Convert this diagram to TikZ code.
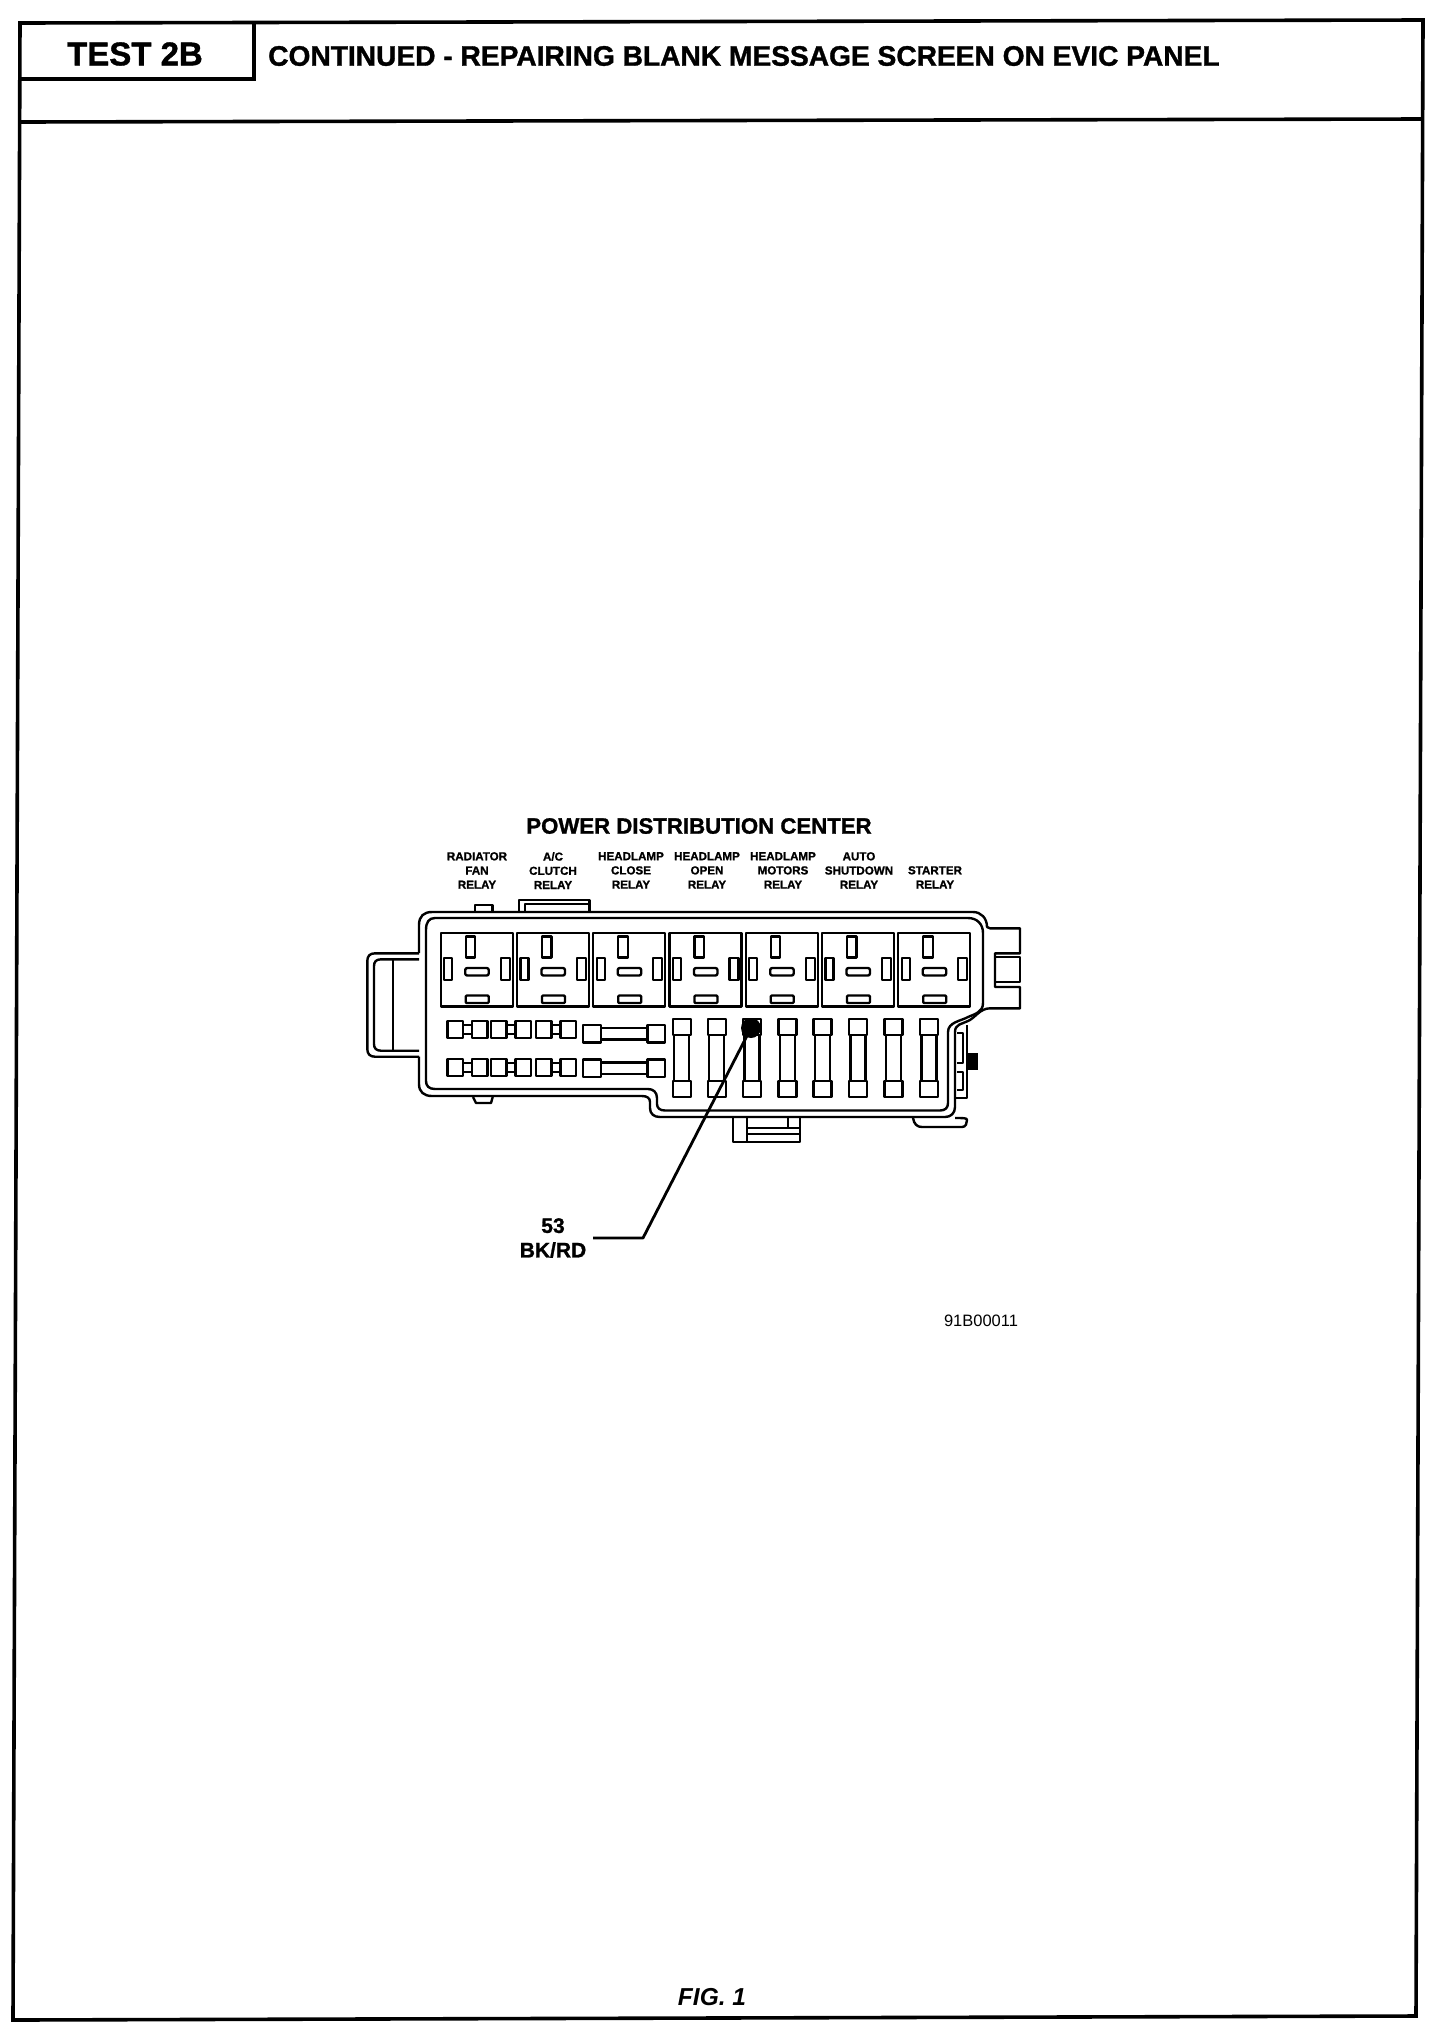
\documentclass[tikz,border=0pt]{standalone}
\usepackage{fontspec}
\setmainfont{Liberation Sans}[BoldFeatures={FakeBold=1.2}]
\tikzset{
  frameline/.style={line width=3.6pt,black},
  partline/.style={line width=2.4pt,black,line join=round},
  lbl/.style={inner sep=0pt,font=\bfseries,align=center,text=black},
  relaylbl/.style={lbl,font=\bfseries\fontsize{11.6}{14.2}\selectfont,execute at begin node={\vphantom{/}}},
  leader/.style={line width=2.8pt,black,line join=round}
}
\begin{document}
\begin{tikzpicture}[x=1pt,y=1pt]
\useasboundingbox (0,0) rectangle (1456,-2030);
\fill[white] (0,0) rectangle (1456,-2030);
% page frame
\draw[frameline] (20,-23) -- (1423,-20) -- (1416,-2016) -- (13,-2020) -- cycle;
\draw[frameline] (20,-122) -- (1422,-119);
\draw[frameline] (254,-23) -- (254,-79) -- (20,-79);
\node[lbl,font=\bfseries\fontsize{33}{36}\selectfont] (test) at (135,-54) {TEST 2B};
\node[lbl,font=\bfseries\fontsize{28.15}{30}\selectfont,anchor=west] (title) at (268,-56) {CONTINUED - REPAIRING BLANK MESSAGE SCREEN ON EVIC PANEL};
\node[lbl,font=\bfseries\fontsize{22.2}{25}\selectfont] (pdc) at (699,-826) {POWER DISTRIBUTION CENTER};
% relay labels
\node[relaylbl,anchor=north] (r1) at (477,-852) {RADIATOR\\FAN\\RELAY};
\node[relaylbl,anchor=north] (r2) at (553,-852) {A/C\\CLUTCH\\RELAY};
\node[relaylbl,anchor=north] (r3) at (631,-852) {HEADLAMP\\CLOSE\\RELAY};
\node[relaylbl,anchor=north] (r4) at (707,-852) {HEADLAMP\\OPEN\\RELAY};
\node[relaylbl,anchor=north] (r5) at (783,-852) {HEADLAMP\\MOTORS\\RELAY};
\node[relaylbl,anchor=north] (r6) at (859,-852) {AUTO\\SHUTDOWN\\RELAY};
\node[relaylbl,anchor=north] (r7) at (935,-866) {STARTER\\RELAY};
% outer outline
\draw[partline] (419,-953) -- (419,-925) .. controls (419,-916) and (424,-912) .. (432,-912)
  -- (973,-912) .. controls (981,-912) and (987,-918) .. (987,-927)
  -- (990,-928.3) -- (1020,-928.3) -- (1020,-953.3) -- (995,-953.3) -- (995,-987) -- (1020,-987) -- (1020,-1008.3) -- (990,-1008.3)
  .. controls (980,-1008.3) and (975,-1018) .. (968,-1021)
  .. controls (962,-1024) and (955,-1024) .. (955,-1032)
  -- (955,-1107) .. controls (955,-1113) and (951,-1117) .. (945,-1117)
  -- (660,-1117) .. controls (654,-1117) and (650,-1114) .. (650,-1108)
  -- (650,-1102) .. controls (650,-1098) and (647,-1096) .. (642,-1096)
  -- (432,-1096) .. controls (424,-1096) and (419,-1092) .. (419,-1084) -- (419,-1056.7);
% inner outline
\draw[partline] (426,-930) .. controls (426,-922) and (429,-918) .. (435,-918)
  -- (968,-918) .. controls (977,-918) and (983,-924) .. (983,-933)
  -- (983,-1003) .. controls (983,-1012) and (975,-1014) .. (968,-1017)
  .. controls (961,-1021) and (948,-1022) .. (948,-1032)
  -- (948,-1103) .. controls (948,-1108) and (945,-1110.5) .. (940,-1110.5)
  -- (665,-1110.5) .. controls (660,-1110.5) and (657,-1108) .. (657,-1104)
  -- (657,-1098) .. controls (657,-1092) and (653,-1089) .. (648,-1089)
  -- (435,-1089) .. controls (429,-1089) and (426,-1086) .. (426,-1081) -- cycle;
% tab block at the right
\draw[partline] (995,-957) rectangle (1020,-982);
% left tab
\draw[partline] (419,-953.3) -- (375,-953.3) .. controls (370,-953.3) and (367.3,-956) .. (367.3,-961)
  -- (367.3,-1049) .. controls (367.3,-1054) and (370,-1056.7) .. (375,-1056.7) -- (419,-1056.7);
\draw[partline] (419,-959.3) -- (381,-959.3) .. controls (376,-959.3) and (374,-962) .. (374,-966)
  -- (374,-1044) .. controls (374,-1048) and (376,-1050.7) .. (381,-1050.7) -- (419,-1050.7);
\draw[partline] (392.7,-959.3) -- (392.7,-1050.7);
% top and bottom small tabs
\draw[partline] (475,-911) -- (475,-905) -- (492.3,-905) -- (492.3,-911);
\draw[partline] (519,-911) -- (519,-900) -- (589.3,-900) -- (589.3,-911);
\draw[partline] (525,-911) -- (525,-904) -- (589.3,-904);
\draw[partline] (473,-1097) -- (476,-1103) -- (491,-1103) -- (492.7,-1097);
% bottom bracket
\draw[partline] (733,-1118) -- (733,-1142) -- (800,-1142) -- (800,-1118);
\draw[partline] (747,-1118) -- (747,-1142);
\draw[partline] (747,-1128) -- (800,-1128);
\draw[partline] (747,-1134) -- (800,-1134);
\draw[partline] (788,-1118) -- (788,-1128);
% right lower details
\draw[partline] (967,-1025) -- (967,-1098) -- (955,-1098);
\draw[partline] (957,-1033) -- (963,-1033) -- (963,-1063) -- (957,-1063);
\draw[partline] (957,-1072) -- (963,-1072) -- (963,-1090) -- (957,-1090);
\fill[black] (968,-1053) rectangle (978,-1070);
\draw[partline] (913,-1118) .. controls (914,-1124) and (917,-1127) .. (922,-1127) -- (962,-1127) .. controls (966,-1127) and (967,-1123) .. (967,-1120) .. controls (967,-1118) and (964,-1118) .. (955,-1118);
% relay sockets
\foreach \i in {0,...,6}{
  \begin{scope}[shift={(440.7+76.25*\i,-933)}]
    \draw[partline] (0,0) rectangle (72,-73.5);
    \draw[partline] (25,-3.5) rectangle (34.5,-24.5);
    \draw[partline] (3.5,-25) rectangle (11.5,-47);
    \draw[partline] (60,-25) rectangle (69,-47);
    \draw[partline,rounded corners=2pt] (24.5,-35) rectangle (48,-42.5);
    \draw[partline,rounded corners=1pt] (25,-62.5) rectangle (48,-70);
  \end{scope}
}
% small fuses
\foreach \y in {-1021,-1059}{
  \foreach \x in {447.3,491,536}{
    \draw[partline] (\x,\y) rectangle ++(15.5,-17);
    \draw[partline] (\x+15.5,\y-4) -- ++(9,0);
    \draw[partline] (\x+15.5,\y-13) -- ++(9,0);
    \draw[partline] (\x+24.5,\y) rectangle ++(15.5,-17);
  }
}
% horizontal fuses
\foreach \y in {-1025,-1059.5}{
  \draw[partline] (582.7,\y) rectangle ++(18,-17.5);
  \draw[partline] (665,\y) rectangle ++(-17.7,-17.5);
  \draw[partline] (600.7,\y-3) -- (647.3,\y-3);
  \draw[partline] (600.7,\y-14.5) -- (647.3,\y-14.5);
}
% vertical fuses
\foreach \x in {672.7,707.7,742.9,778.3,813.3,849,884.3,920}{
  \draw[partline] (\x,-1019) rectangle ++(18,-16);
  \draw[partline] (\x,-1081) rectangle ++(18,-16);
  \draw[partline] (\x+1.5,-1035) -- (\x+1.5,-1081);
  \draw[partline] (\x+16.5,-1035) -- (\x+16.5,-1081);
}
% leader
\node[circle,fill=black,inner sep=0pt,minimum size=20pt] (dot) at (751,-1028) {};
\coordinate (leadend) at (593,-1238);
\coordinate (elbow) at (643,-1238);
\draw[leader] (leadend) -- (elbow) -- (dot.center);
\node[lbl,font=\bfseries\fontsize{21}{24.5}\selectfont] (wire) at (553,-1238) {53\\BK/RD};
\node[inner sep=0pt,font=\fontsize{16.5}{18}\selectfont,text=black] (code) at (981,-1321) {91B00011};
\node[lbl,font=\bfseries\itshape\fontsize{24.5}{26}\selectfont] (fig) at (712,-1997) {FIG. 1};
\end{tikzpicture}
\end{document}
